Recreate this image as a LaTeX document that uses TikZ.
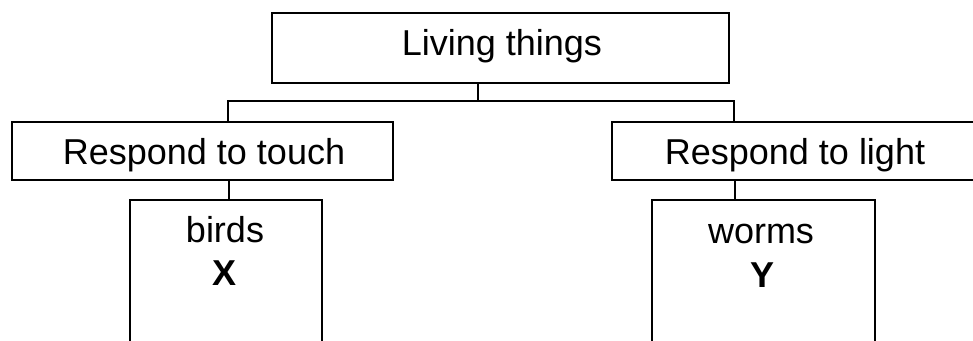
\documentclass[tikz,border=0pt]{standalone}
\usepackage{fontspec}
\setmainfont{Liberation Sans}
\begin{document}
\begin{tikzpicture}[x=1pt,y=-1pt,
	box/.style={draw,line width=2pt,inner sep=0pt},
	lbl/.style={anchor=base,inner sep=0pt,font=\fontsize{36}{40}\selectfont},
	link/.style={line width=2pt}]
	\useasboundingbox (0,0) rectangle (973,340);
	\clip (0,0) rectangle (973,340);
	\path
	coordinate (aux0) at (478,101)
	coordinate (aux1) at (228,101)
	coordinate (aux2) at (734,101)
	;
	\node[box,minimum width=457pt,minimum height=70pt] (living) at (500.5,48) {};
	\node[box,minimum width=381pt,minimum height=58pt] (touch) at (202.5,151) {};
	\node[box,minimum width=378pt,minimum height=58pt] (light) at (801,151) {};
	\node[box,minimum width=192pt,minimum height=160pt] (birds) at (226,280) {};
	\node[box,minimum width=223pt,minimum height=160pt] (worms) at (763.5,280) {};
\draw[link]
	(living.south -| aux0) --
	(aux0);
\draw[link]
	(touch.north -| aux1) --
	(aux1) --
	(aux2) --
	(light.north -| aux2);
\draw[link]
	(touch.south -| 229,0) --
	(birds.north -| 229,0);
\draw[link]
	(light.south -| 735,0) --
	(worms.north -| 735,0);
	\node[lbl] (tliving) at (502,55) {Living things};
	\node[lbl] (ttouch) at (204,164) {Respond to touch};
	\node[lbl] (tlight) at (795,164) {Respond to light};
	\node[lbl] (tbirds) at (225,242) {birds};
	\node[lbl,font=\fontsize{36}{40}\selectfont\bfseries] (tx) at (225,285) {X};
	\node[lbl] (tworms) at (761,243) {worms};
	\node[lbl,font=\fontsize{36}{40}\selectfont\bfseries] (ty) at (762,287) {Y};
\end{tikzpicture}
\end{document}
